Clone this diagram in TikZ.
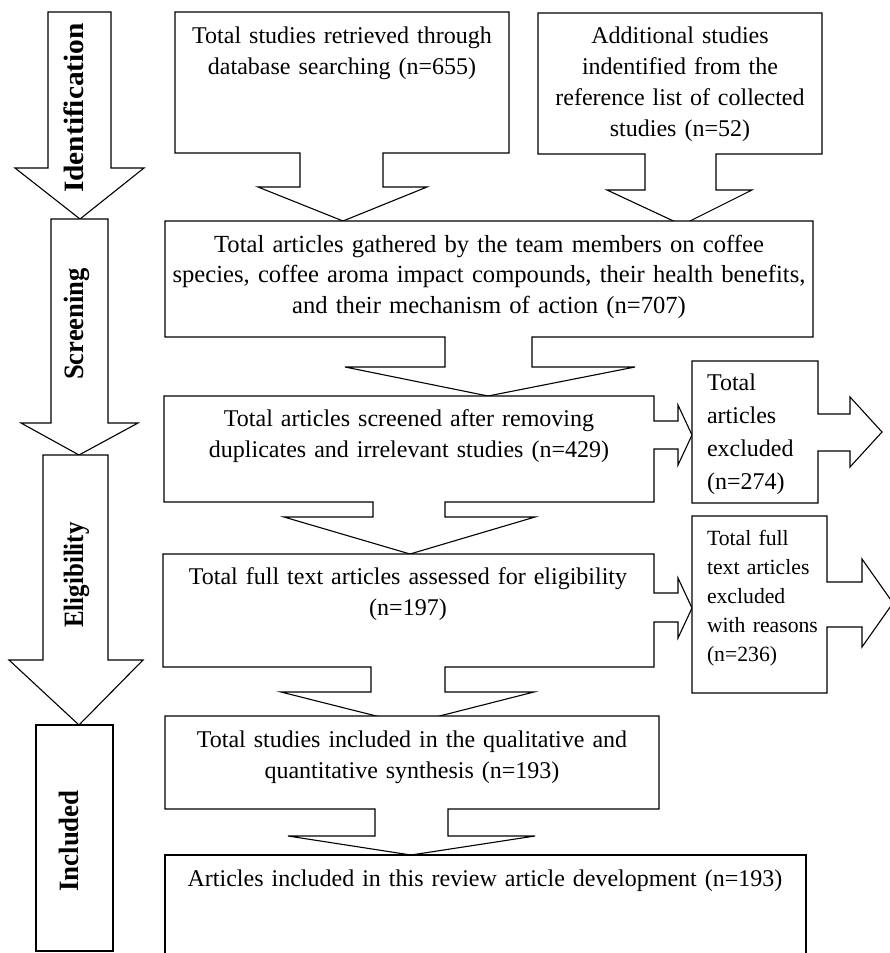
\documentclass[tikz,border=0pt]{standalone}
\usepackage{fontspec}
\setmainfont{Liberation Serif}
\begin{document}
\begin{tikzpicture}[x=1pt,y=-1pt,
  shp/.style={draw=black,fill=white,line width=1.1pt,line join=miter},
  txt/.style={inner sep=0pt,outer sep=0pt,align=center,anchor=base,font=\fontsize{24}{31}\selectfont},
  ltxt/.style={inner sep=0pt,outer sep=0pt,align=left,anchor=base west,font=\fontsize{24}{33}\selectfont},
  lbl/.style={inner sep=0pt,outer sep=0pt,rotate=90,anchor=base,font=\fontsize{28}{30}\selectfont\bfseries},
]
\useasboundingbox (0,0) rectangle (889,953);

% ---- stage arrows (left column)
\draw[shp] (48,12) -- (111,12) -- (111,168) -- (144,168) -- (80,219) -- (15,168) -- (48,168) -- cycle;
\draw[shp] (51,219) -- (108,219) -- (108,423) -- (138,423) -- (79,455) -- (21,423) -- (51,423) -- cycle;
\draw[shp] (43,455) -- (108,455) -- (108,660) -- (143,660) -- (79,725) -- (9,660) -- (43,660) -- cycle;
\draw[shp] (36,725) rectangle (113,951);

\node[lbl] (lid) at (83,108) {\scalebox{1.05}[1]{Identification}};
\node[lbl] (lsc) at (83,324) {\scalebox{0.95}[1]{Screening}};
\node[lbl] (lel) at (83,575) {\scalebox{0.89}[1]{Eligibility}};
\node[lbl] (lin) at (78,841) {\scalebox{0.96}[1]{Included}};

% ---- main boxes with their block arrows
\draw[shp] (175,12) -- (509,12) -- (509,153) -- (383,153) -- (383,187) -- (427,187) -- (343,221) -- (258,187) -- (300,187) -- (300,153) -- (175,153) -- cycle;
\draw[shp] (538,13) -- (822,13) -- (822,154) -- (716,154) -- (716,190) -- (752,190) -- (682,225) -- (607,190) -- (645,190) -- (645,154) -- (538,154) -- cycle;
\draw[shp] (165,221) -- (813,221) -- (813,337) -- (532,337) -- (532,367) -- (635,367) -- (488,396) -- (345,367) -- (445,367) -- (445,337) -- (165,337) -- cycle;
\draw[shp] (164,396) -- (654,396) -- (654,421) -- (678,421) -- (678,405) -- (692,435) -- (678,465) -- (678,449) -- (654,449) -- (654,502) -- (445,502) -- (445,517) -- (535,517) -- (410,554) -- (284,517) -- (373,517) -- (373,502) -- (164,502) -- cycle;
\draw[shp] (163,554) -- (654,554) -- (654,593) -- (678,593) -- (678,578) -- (692,608) -- (678,638) -- (678,622) -- (654,622) -- (654,667) -- (445,667) -- (445,692) -- (534,692) -- (408,724) -- (281,692) -- (371,692) -- (371,667) -- (163,667) -- cycle;
\draw[shp] (165,716) -- (659,716) -- (659,809) -- (448,809) -- (448,836) -- (535,836) -- (411,855) -- (288,836) -- (375,836) -- (375,809) -- (165,809) -- cycle;
\draw[shp] (165,855) rectangle (806,962);

% ---- exclusion boxes
\draw[shp] (692,361) -- (818,361) -- (818,414) -- (850,414) -- (850,397) -- (882,432) -- (850,467) -- (850,451) -- (818,451) -- (818,503) -- (692,503) -- cycle;
\draw[shp] (692,516) -- (827,516) -- (827,582) -- (862,582) -- (862,559) -- (893,603) -- (862,647) -- (862,627) -- (827,627) -- (827,693) -- (692,693) -- cycle;

% ---- texts
\node[txt,text width=320pt] (t1) at (342,43) {Total studies retrieved through\\database searching (n=655)};
\node[txt,text width=275pt] (t2) at (680,43) {Additional studies\\indentified from the\\reference list of collected\\studies (n=52)};
\node[txt,text width=640pt,font=\fontsize{24.6}{30.5}\selectfont] (t3) at (489,252) {Total articles gathered by the team members on coffee\\species, coffee aroma impact compounds, their health benefits,\\and their mechanism of action (n=707)};
\node[txt,text width=480pt] (t4) at (409,426) {Total articles screened after removing\\duplicates and irrelevant studies (n=429)};
\node[txt,text width=480pt] (t5) at (408,584) {Total full text articles assessed for eligibility\\(n=197)};
\node[txt,text width=480pt] (t6) at (412,747) {Total studies included in the qualitative and\\quantitative synthesis (n=193)};
\node[txt,text width=620pt] (t7) at (485,886) {Articles included in this review article development (n=193)};
\node[ltxt,text width=110pt] (e1) at (707,390) {Total\\articles\\excluded\\(n=274)};
\node[ltxt,text width=125pt,font=\fontsize{21.7}{29}\selectfont] (e2) at (707,545) {Total full\\text articles\\excluded\\with reasons\\(n=236)};
\end{tikzpicture}
\end{document}
